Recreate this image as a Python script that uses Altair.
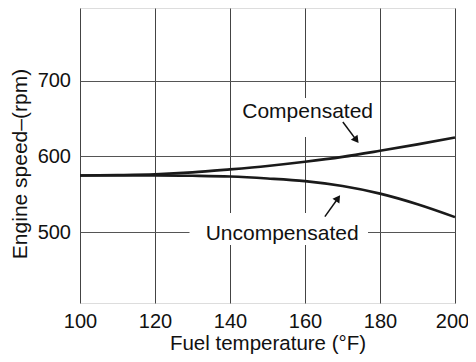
import altair as alt
import pandas as pd

# ---- data ----
temps = [100, 110, 120, 130, 140, 150, 160, 170, 180, 190, 200]
compensated = [575, 575.5, 576.5, 579, 583, 587.5, 593, 599.5, 607.5, 616, 625]
uncompensated = [575, 575, 575, 574.5, 573.5, 571, 567.5, 561, 551, 537, 520]

x_ticks = [100, 120, 140, 160, 180, 200]
y_ticks = [500, 600, 700]

label_text = ["Compensated", "Uncompensated"]
label_x = [160.7, 153.9]
label_y = [650.8, 489.2]

# white areas that interrupt the grid behind the labels
mask_x = [142.0, 129.2]
mask_x2 = [175.7, 176.8]
mask_y = [625.7, 483.3]
mask_y2 = [677.0, 525.5]

# annotation arrows (start -> head)
arrow_x = [170.1, 165.3]
arrow_y = [645.5, 520.6]
arrow_x2 = [173.7, 168.8]
arrow_y2 = [621.6, 544.9]
arrow_angle = [142.6, 34.6]

FONT = "Liberation Sans"

curves = pd.DataFrame({
    "temp": temps * 2,
    "rpm": compensated + uncompensated,
    "series": ["Compensated"] * len(temps) + ["Uncompensated"] * len(temps),
})
labels = pd.DataFrame({"text": label_text, "x": label_x, "y": label_y})
masks = pd.DataFrame({"x": mask_x, "x2": mask_x2, "y": mask_y, "y2": mask_y2})
arrows = pd.DataFrame({"x": arrow_x, "y": arrow_y, "x2": arrow_x2, "y2": arrow_y2,
                       "angle": arrow_angle})

xscale = alt.Scale(domain=[100, 200], nice=False, zero=False)
yscale = alt.Scale(domain=[406.7, 795.9], nice=False, zero=False)

xaxis = alt.Axis(values=x_ticks, grid=True, gridColor="#444", gridWidth=1,
                 ticks=False, domain=False, labelFontSize=20, labelFont=FONT,
                 labelColor="#111", labelPadding=8, labelFlush=False,
                 labelOffset=alt.expr("datum.value == 200 ? -3 : 0"),
                 title="Fuel temperature (°F)", titleFont=FONT, titleFontSize=20.5,
                 titleFontWeight="normal", titleColor="#111",
                 titleAlign="center", titleBaseline="alphabetic",
                 titleX=187.5, titleY=46.5)
yaxis = alt.Axis(values=y_ticks, grid=True, gridColor="#555", gridWidth=1,
                 ticks=False, domain=False, labelFontSize=20, labelFont=FONT,
                 labelColor="#111", labelPadding=9.5,
                 title="Engine speed–(rpm)", titleFont=FONT, titleFontSize=21,
                 titleFontWeight="normal", titleColor="#111",
                 titleAngle=270, titleAlign="center", titleBaseline="alphabetic",
                 titleX=-54, titleY=155.5)

base_lines = alt.Chart(curves).mark_line(
    color="#1a1a1a", strokeWidth=2.6, interpolate="monotone"
).encode(
    x=alt.X("temp:Q", scale=xscale, axis=xaxis),
    y=alt.Y("rpm:Q", scale=yscale, axis=yaxis),
    detail="series:N",
)

mask_layer = alt.Chart(masks).mark_rect(fill="white").encode(
    x=alt.X("x:Q", scale=xscale), x2="x2:Q",
    y=alt.Y("y:Q", scale=yscale), y2="y2:Q",
)

text_layer = alt.Chart(labels).mark_text(
    font=FONT, fontSize=21, color="#111", align="center", baseline="alphabetic"
).encode(
    x=alt.X("x:Q", scale=xscale), y=alt.Y("y:Q", scale=yscale), text="text:N"
)

shaft = alt.Chart(arrows).mark_rule(color="#111", strokeWidth=1.5).encode(
    x=alt.X("x:Q", scale=xscale), x2="x2:Q",
    y=alt.Y("y:Q", scale=yscale), y2="y2:Q",
)

heads = alt.Chart(arrows).mark_point(
    shape="triangle-up", filled=True, color="#111", size=70, opacity=1
).encode(
    x=alt.X("x2:Q", scale=xscale), y=alt.Y("y2:Q", scale=yscale),
    angle=alt.Angle("angle:Q", scale=None),
)

chart = alt.layer(mask_layer, base_lines, text_layer, shaft, heads).properties(
    width=375, height=295,
    padding={"left": 72, "top": 0, "right": 13, "bottom": 51},
    autosize=alt.AutoSizeParams(type="none"),
).configure_view(stroke="#222", strokeWidth=1.2).configure(background="white")

chart.save("out.html", embed_options={"renderer": "svg", "actions": False})
